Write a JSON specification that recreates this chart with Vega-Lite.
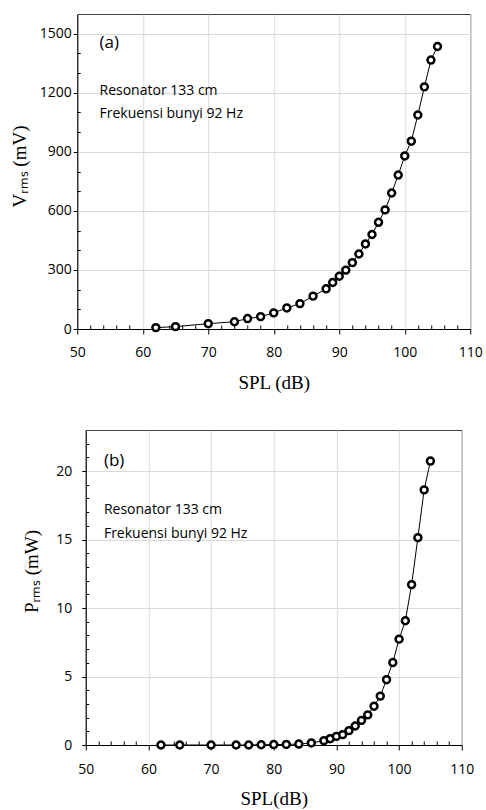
{
  "$schema": "https://vega.github.io/schema/vega-lite/v6.json",
  "padding": {"left": 9, "top": 13, "right": 2, "bottom": 0},
  "spacing": 36,
  "center": true,
  "background": "white",
  "config": {
    "view": {"stroke": "#404040", "strokeWidth": 1},
    "axis": {
      "labelFont": "Open Sans", "labelFontSize": 14, "labelColor": "#000",
      "titleFont": "Liberation Serif", "titleFontSize": 19, "titleFontWeight": "normal", "titleColor": "#000",
      "domainColor": "#000", "domainWidth": 1, "tickColor": "#000", "tickWidth": 1,
      "gridColor": "#d9d9d9", "gridWidth": 1, "labelOverlap": false, "labelFlush": false, "labelBound": false,
      "format": "d"
    }
  },
  "datasets": {
    "va": [
      {"spl": 62, "v": 7}, {"spl": 65, "v": 12}, {"spl": 70, "v": 27}, {"spl": 74, "v": 37},
      {"spl": 76, "v": 53}, {"spl": 78, "v": 63}, {"spl": 80, "v": 82}, {"spl": 82, "v": 107},
      {"spl": 84, "v": 129}, {"spl": 86, "v": 167}, {"spl": 88, "v": 204}, {"spl": 89, "v": 236},
      {"spl": 90, "v": 268}, {"spl": 91, "v": 299}, {"spl": 92, "v": 337}, {"spl": 93, "v": 381},
      {"spl": 94, "v": 432}, {"spl": 95, "v": 480}, {"spl": 96, "v": 542}, {"spl": 97, "v": 605},
      {"spl": 98, "v": 691}, {"spl": 99, "v": 782}, {"spl": 100, "v": 879}, {"spl": 101, "v": 954},
      {"spl": 102, "v": 1087}, {"spl": 103, "v": 1230}, {"spl": 104, "v": 1366}, {"spl": 105, "v": 1435}
    ],
    "pa": [
      {"spl": 62, "p": 0}, {"spl": 65, "p": 0}, {"spl": 70, "p": 0}, {"spl": 74, "p": 0},
      {"spl": 76, "p": 0}, {"spl": 78, "p": 0.02}, {"spl": 80, "p": 0.03}, {"spl": 82, "p": 0.04},
      {"spl": 84, "p": 0.07}, {"spl": 86, "p": 0.15}, {"spl": 88, "p": 0.32}, {"spl": 89, "p": 0.46},
      {"spl": 90, "p": 0.63}, {"spl": 91, "p": 0.76}, {"spl": 92, "p": 1.05}, {"spl": 93, "p": 1.39},
      {"spl": 94, "p": 1.8}, {"spl": 95, "p": 2.2}, {"spl": 96, "p": 2.83}, {"spl": 97, "p": 3.57},
      {"spl": 98, "p": 4.77}, {"spl": 99, "p": 6.02}, {"spl": 100, "p": 7.73}, {"spl": 101, "p": 9.07},
      {"spl": 102, "p": 11.71}, {"spl": 103, "p": 15.14}, {"spl": 104, "p": 18.63}, {"spl": 105, "p": 20.73}
    ],
    "tagA": [{"spl": 53.4, "v": 1453, "label": "(a)"}],
    "noteA": [
      {"spl": 53.4, "v": 1209, "label": "Resonator 133 cm"},
      {"spl": 53.4, "v": 1090, "label": "Frekuensi bunyi 92 Hz"}
    ],
    "tagB": [{"spl": 52.9, "p": 20.73, "label": "(b)"}],
    "noteB": [
      {"spl": 52.9, "p": 17.14, "label": "Resonator 133 cm"},
      {"spl": 52.9, "p": 15.43, "label": "Frekuensi bunyi 92 Hz"}
    ]
  },
  "vconcat": [
    {
      "width": 393,
      "height": 315,
      "encoding": {
        "x": {
          "field": "spl", "type": "quantitative",
          "scale": {"domain": [50, 110], "nice": false, "zero": false},
          "axis": {
            "title": "SPL (dB)",
            "values": [50,52,54,56,58,60,62,64,66,68,70,72,74,76,78,80,82,84,86,88,90,92,94,96,98,100,102,104,106,108,110],
            "labelExpr": "datum.value % 10 === 0 ? datum.label : ''",
            "grid": true,
            "gridOpacity": {"condition": {"test": "datum.value % 10 === 0", "value": 1}, "value": 0},
            "tickSize": {"condition": {"test": "datum.value % 10 === 0", "value": 5}, "value": -4},
            "labelPadding": 11,
            "titlePadding": 14
          }
        },
        "y": {
          "field": "v", "type": "quantitative",
          "scale": {"domain": [0, 1600], "nice": false, "zero": true},
          "axis": {
            "title": "Vᵣₘₛ (mV)",
            "values": [0,100,200,300,400,500,600,700,800,900,1000,1100,1200,1300,1400,1500],
            "labelExpr": "datum.value % 300 === 0 ? datum.label : ''",
            "grid": true,
            "gridOpacity": {"condition": {"test": "datum.value % 300 === 0 && datum.value > 0", "value": 1}, "value": 0},
            "tickSize": {"condition": {"test": "datum.value % 300 === 0", "value": 4}, "value": -3},
            "labelPadding": 2,
            "titleX": -48,
            "titleY": 152,
            "titleAlign": "center",
            "titleBaseline": "bottom"
          }
        }
      },
      "layer": [
        {"data": {"name": "va"}, "mark": {"type": "line", "color": "#000", "strokeWidth": 1}},
        {"data": {"name": "va"}, "mark": {"type": "point", "shape": "circle", "filled": false, "fill": "white", "fillOpacity": 1, "stroke": "#000", "strokeWidth": 2.5, "size": 48, "opacity": 1}},
        {"data": {"name": "tagA"}, "mark": {"type": "text", "align": "left", "baseline": "middle", "font": "Open Sans", "fontSize": 17, "color": "#000"}, "encoding": {"text": {"field": "label"}}},
        {"data": {"name": "noteA"}, "mark": {"type": "text", "align": "left", "baseline": "middle", "font": "Open Sans", "fontSize": 14, "color": "#000"}, "encoding": {"text": {"field": "label"}}}
      ]
    },
    {
      "width": 376,
      "height": 315,
      "encoding": {
        "x": {
          "field": "spl", "type": "quantitative",
          "scale": {"domain": [50, 110], "nice": false, "zero": false},
          "axis": {
            "title": "SPL(dB)",
            "values": [50,52,54,56,58,60,62,64,66,68,70,72,74,76,78,80,82,84,86,88,90,92,94,96,98,100,102,104,106,108,110],
            "labelExpr": "datum.value % 10 === 0 ? datum.label : ''",
            "grid": true,
            "gridOpacity": {"condition": {"test": "datum.value % 10 === 0", "value": 1}, "value": 0},
            "tickSize": {"condition": {"test": "datum.value % 10 === 0", "value": 5}, "value": -4},
            "labelPadding": 12,
            "titlePadding": 13
          }
        },
        "y": {
          "field": "p", "type": "quantitative",
          "scale": {"domain": [0, 23], "nice": false, "zero": true},
          "axis": {
            "title": "Pᵣₘₛ (mW)",
            "values": [0,1,2,3,4,5,6,7,8,9,10,11,12,13,14,15,16,17,18,19,20,21,22],
            "labelExpr": "datum.value % 5 === 0 ? datum.label : ''",
            "grid": true,
            "gridOpacity": {"condition": {"test": "datum.value % 5 === 0 && datum.value > 0", "value": 1}, "value": 0},
            "tickSize": {"condition": {"test": "datum.value % 5 === 0", "value": 4}, "value": -3},
            "labelPadding": 10,
            "titleX": -44,
            "titleY": 141,
            "titleAlign": "center",
            "titleBaseline": "bottom"
          }
        }
      },
      "layer": [
        {"data": {"name": "pa"}, "mark": {"type": "line", "color": "#000", "strokeWidth": 1}},
        {"data": {"name": "pa"}, "mark": {"type": "point", "shape": "circle", "filled": false, "fill": "white", "fillOpacity": 1, "stroke": "#000", "strokeWidth": 2.5, "size": 48, "opacity": 1}},
        {"data": {"name": "tagB"}, "mark": {"type": "text", "align": "left", "baseline": "middle", "font": "Open Sans", "fontSize": 17, "color": "#000"}, "encoding": {"text": {"field": "label"}}},
        {"data": {"name": "noteB"}, "mark": {"type": "text", "align": "left", "baseline": "middle", "font": "Open Sans", "fontSize": 14, "color": "#000"}, "encoding": {"text": {"field": "label"}}}
      ]
    }
  ]
}
